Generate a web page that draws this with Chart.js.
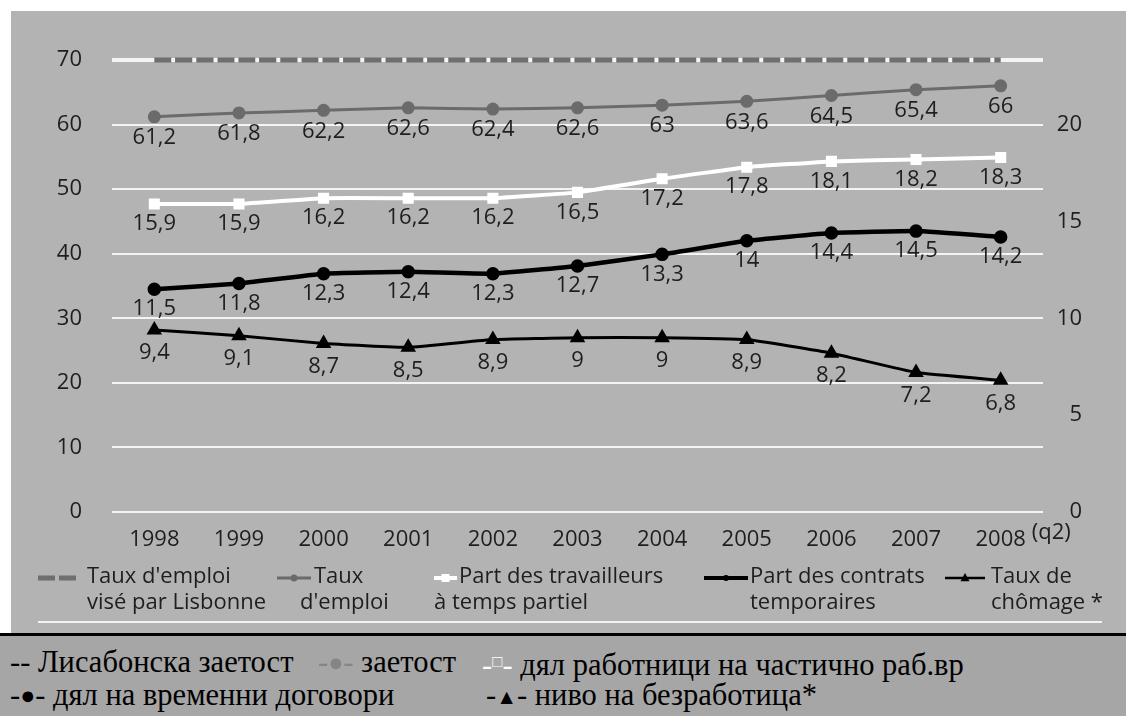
<!DOCTYPE html>
<html>
<head>
<meta charset="utf-8">
<script src="https://cdn.jsdelivr.net/npm/chart.js@4.4.1/dist/chart.umd.min.js"></script>
<style>
  html, body { margin: 0; padding: 0; background: #fff; }
  body { width: 1126px; height: 716px; position: relative; overflow: hidden; }
  #panel { position: absolute; left: 11px; top: 11px; width: 1115px; height: 622px; background: #b3b3b3; }
  #sep { position: absolute; left: 0; top: 633px; width: 1126px; height: 3px; background: #000; }
  #notes { position: absolute; left: 0; top: 636px; width: 1126px; height: 80px; background: #a6a6a6;
           font-family: "Liberation Serif", "DejaVu Serif", serif; font-size: 30.5px; color: #000; }
  .seg { position: absolute; white-space: pre; line-height: 34px; }
  .mk { font-size: 25px; vertical-align: 1px; }
</style>
</head>
<body>
<div id="panel"><canvas id="chart" width="1115" height="622"></canvas></div>
<div id="sep"></div>
<div id="notes">
  <div class="seg" style="left:10px; top:9px">-- Лисабонска заетост</div>
  <div class="seg" style="left:318px; top:9px"><span style="color:#858585">-<span class="mk">●</span>-</span> заетост</div>
  <div class="seg" style="left:482px; top:9px"><span style="color:#fff">-<span style="font-size:17px; vertical-align:8px">□</span>-</span> дял работници на частично раб.вр</div>
  <div class="seg" style="left:10px; top:42px">-<span class="mk">●</span>- дял на временни договори</div>
  <div class="seg" style="left:486px; top:42px">-<span class="mk" style="font-size:21px">▲</span>- ниво на безработица*</div>
</div>
<script>
// data
const years = ['1998', '1999', '2000', '2001', '2002', '2003', '2004', '2005', '2006', '2007', '2008'];
const lastYearNote = '(q2)';
const lisbonTarget = [70, 70, 70, 70, 70, 70, 70, 70, 70, 70, 70];
const employmentRate = [61.2, 61.8, 62.2, 62.6, 62.4, 62.6, 63, 63.6, 64.5, 65.4, 66];
const partTimeShare = [15.9, 15.9, 16.2, 16.2, 16.2, 16.5, 17.2, 17.8, 18.1, 18.2, 18.3];
const temporaryShare = [11.5, 11.8, 12.3, 12.4, 12.3, 12.7, 13.3, 14, 14.4, 14.5, 14.2];
const unemploymentRate = [9.4, 9.1, 8.7, 8.5, 8.9, 9, 9, 8.9, 8.2, 7.2, 6.8];
const leftTicks = [0, 10, 20, 30, 40, 50, 60, 70];
const rightTicks = [0, 5, 10, 15, 20];
const legendText = [
  ["Taux d'emploi", 'visé par Lisbonne'],
  ['Taux', "d'emploi"],
  ['Part des travailleurs', 'à temps partiel'],
  ['Part des contrats', 'temporaires'],
  ['Taux de', 'chômage *']
];

const FONT = '"Open Sans", "Noto Sans", sans-serif';
const TEXT = '#1e1e1e';

// legend layout, canvas coords: sample start/end, text x for each line
const legendPos = [
  { x1: 27, x2: 67, t1: 76, t2: 76 },
  { x1: 266, x2: 300, t1: 303, t2: 289 },
  { x1: 423, x2: 446, t1: 448, t2: 423 },
  { x1: 693, x2: 737, t1: 739, t2: 739 },
  { x1: 934, x2: 974, t1: 980, t2: 980 }
];

function fmt(v) {
  return String(v).replace('.', ',');
}

function drawMarker(ctx, style, x, y, r, color) {
  ctx.save();
  ctx.fillStyle = color;
  ctx.beginPath();
  if (style === 'circle') {
    ctx.arc(x, y, r, 0, Math.PI * 2);
  } else if (style === 'rect') {
    ctx.rect(x - r, y - r, r * 2, r * 2);
  } else if (style === 'triangle') {
    ctx.moveTo(x, y - r * 1.1);
    ctx.lineTo(x + r, y + r * 0.7);
    ctx.lineTo(x - r, y + r * 0.7);
    ctx.closePath();
  }
  if (style !== 'none') ctx.fill();
  ctx.restore();
}

const pointLabels = {
  id: 'pointLabels',
  afterDatasetsDraw(chart) {
    const ctx = chart.ctx;
    ctx.save();
    ctx.font = '22px ' + FONT;
    ctx.fillStyle = TEXT;
    ctx.textAlign = 'center';
    ctx.textBaseline = 'middle';
    chart.data.datasets.forEach((ds, i) => {
      if (!ds.showValues) return;
      chart.getDatasetMeta(i).data.forEach((pt, j) => {
        ctx.fillText(fmt(ds.data[j]), pt.x, pt.y + ds.labelGap);
      });
    });
    ctx.restore();
  }
};

const bottomLegend = {
  id: 'bottomLegend',
  afterDraw(chart) {
    const ctx = chart.ctx;
    const xs = chart.scales.x;
    ctx.save();
    // "(q2)" after the last year
    ctx.font = '22px ' + FONT;
    ctx.fillStyle = TEXT;
    ctx.textBaseline = 'middle';
    ctx.textAlign = 'left';
    const lastX = xs.getPixelForValue(years.length - 1);
    ctx.fillText(lastYearNote, lastX + ctx.measureText(years[years.length - 1]).width / 2 + 6, 522);

    // legend rows
    const y1 = 566, y2 = 592;
    chart.data.datasets.forEach((ds, i) => {
      const p = legendPos[i];
      ctx.save();
      ctx.strokeStyle = ds.borderColor;
      ctx.lineWidth = ds.legendLineWidth;
      ctx.setLineDash(ds.borderDash || []);
      ctx.beginPath();
      ctx.moveTo(p.x1, y1 + 1);
      ctx.lineTo(p.x2, y1 + 1);
      ctx.stroke();
      ctx.restore();
      drawMarker(ctx, ds.pointStyle, (p.x1 + p.x2) / 2, y1 + 1, ds.legendPointSize, ds.borderColor);
      ctx.fillStyle = TEXT;
      ctx.fillText(legendText[i][0], p.t1, y1);
      ctx.fillText(legendText[i][1], p.t2, y2);
    });

    // thin white rule under the legend
    ctx.strokeStyle = '#f2f2f2';
    ctx.lineWidth = 2;
    ctx.beginPath();
    ctx.moveTo(27, 611);
    ctx.lineTo(1091, 611);
    ctx.stroke();
    ctx.restore();
  }
};

new Chart('chart', {
  type: 'line',
  data: {
    labels: years,
    datasets: [{
      label: "Taux d'emploi visé par Lisbonne",
      data: lisbonTarget,
      yAxisID: 'y',
      borderColor: '#6f6f6f',
      borderWidth: 5,
      borderDash: [17, 4],
      pointRadius: 0,
      pointStyle: 'none',
      clip: false,
      legendLineWidth: 5,
      legendPointSize: 0,
      showValues: false
    }, {
      label: "Taux d'emploi",
      data: employmentRate,
      yAxisID: 'y',
      borderColor: '#6b6b6b',
      backgroundColor: '#6b6b6b',
      borderWidth: 3,
      pointStyle: 'circle',
      pointRadius: 5,
      legendLineWidth: 3,
      legendPointSize: 3.5,
      labelGap: 21,
      showValues: true
    }, {
      label: 'Part des travailleurs à temps partiel',
      data: partTimeShare,
      yAxisID: 'y1',
      borderColor: '#ffffff',
      backgroundColor: '#ffffff',
      borderWidth: 4,
      pointStyle: 'rect',
      pointRadius: 5,
      legendLineWidth: 4,
      legendPointSize: 4,
      labelGap: 20,
      showValues: true
    }, {
      label: 'Part des contrats temporaires',
      data: temporaryShare,
      yAxisID: 'y1',
      borderColor: '#000000',
      backgroundColor: '#000000',
      borderWidth: 4.5,
      pointStyle: 'circle',
      pointRadius: 4.5,
      legendLineWidth: 4,
      legendPointSize: 3,
      labelGap: 20,
      showValues: true
    }, {
      label: 'Taux de chômage *',
      data: unemploymentRate,
      yAxisID: 'y1',
      borderColor: '#000000',
      backgroundColor: '#000000',
      borderWidth: 3,
      pointStyle: 'triangle',
      pointRadius: 6,
      legendLineWidth: 2.5,
      legendPointSize: 4.5,
      labelGap: 23,
      showValues: true
    }]
  },
  options: {
    responsive: false,
    animation: false,
    layout: { padding: { top: 49, right: 44, left: 0, bottom: 0 } },
    plugins: {
      legend: { display: false },
      tooltip: { enabled: false }
    },
    elements: { line: { tension: 0.1 } },
    scales: {
      x: {
        offset: true,
        grid: { display: false },
        border: { display: false },
        ticks: { color: TEXT, font: { family: FONT, size: 22 }, padding: 7, maxRotation: 0 },
        afterFit(scale) { scale.height = 121; }
      },
      y: {
        position: 'left',
        min: 0,
        max: 70,
        afterBuildTicks(scale) { scale.ticks = leftTicks.map(v => ({ value: v })); },
        grid: {
          color: '#f4f4f4',
          lineWidth: c => (c.tick && c.tick.value === 70 ? 4 : 2),
          drawTicks: false
        },
        border: { display: false },
        ticks: { color: TEXT, font: { family: FONT, size: 22 }, padding: 30 },
        afterFit(scale) { scale.width = 101; }
      },
      y1: {
        position: 'right',
        min: 0,
        max: 70 / 3,
        afterBuildTicks(scale) { scale.ticks = rightTicks.map(v => ({ value: v })); },
        grid: { display: false, drawTicks: false },
        border: { display: false },
        ticks: { color: TEXT, font: { family: FONT, size: 22 }, crossAlign: 'far', padding: 0 },
        afterFit(scale) { scale.width = 39; }
      }
    }
  },
  plugins: [pointLabels, bottomLegend]
});
</script>
</body>
</html>
